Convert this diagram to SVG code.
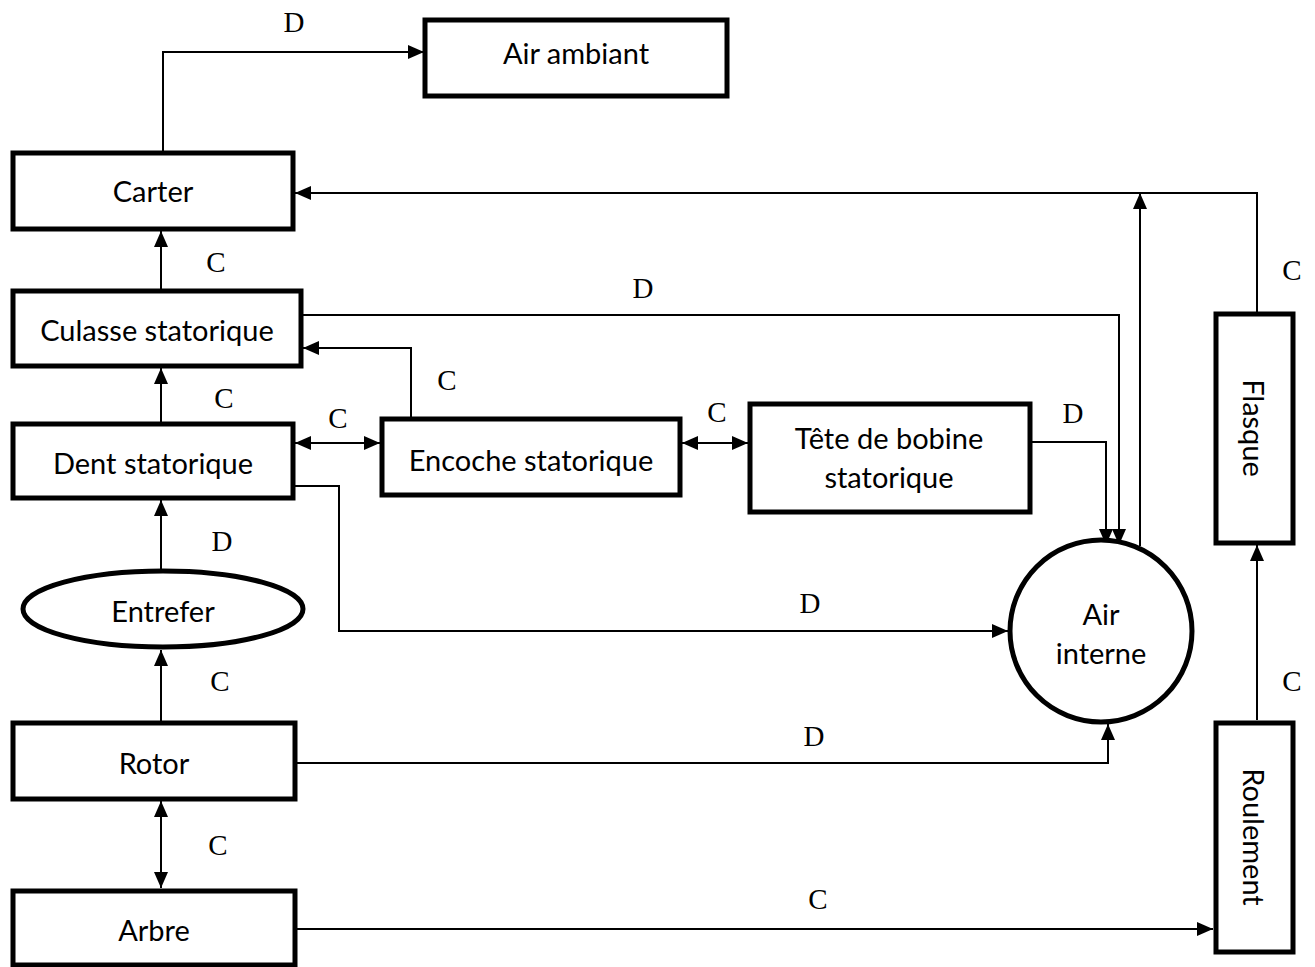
<svg xmlns="http://www.w3.org/2000/svg" width="1315" height="967" viewBox="0 0 1315 967">
<style>
.box{fill:#fff;stroke:#000;stroke-width:5}
.t{font-family:Lato,"Open Sans","Liberation Sans",sans-serif;font-size:29px;fill:#000;text-anchor:middle;dominant-baseline:central}
.l{font-family:"Liberation Serif","Times New Roman",serif;font-size:29px;fill:#000;text-anchor:middle;dominant-baseline:central}
.c{fill:none;stroke:#000;stroke-width:2}
</style>
<defs>
<marker id="ae" markerUnits="userSpaceOnUse" markerWidth="18" markerHeight="16" refX="16" refY="8" orient="auto"><path d="M0,1 L16,8 L0,15 Z" fill="#000"/></marker>
<marker id="as" markerUnits="userSpaceOnUse" markerWidth="18" markerHeight="16" refX="0" refY="8" orient="auto"><path d="M16,1 L0,8 L16,15 Z" fill="#000"/></marker>
</defs>
<rect width="1315" height="967" fill="#fff"/>
<g id="connectors">
<path class="c" d="M163,153 V52 H424" marker-end="url(#ae)"/>
<path class="c" d="M1257,313 V193 H295" marker-end="url(#ae)"/>
<path class="c" d="M1140,546 V193" marker-end="url(#ae)"/>
<path class="c" d="M303,315 H1119 V545" marker-end="url(#ae)"/>
<path class="c" d="M1032,442 H1106 V545" marker-end="url(#ae)"/>
<path class="c" d="M411,417 V348 H303" marker-end="url(#ae)"/>
<path class="c" d="M161,289 V231" marker-end="url(#ae)"/>
<path class="c" d="M161,422 V368" marker-end="url(#ae)"/>
<path class="c" d="M295,443 H380" marker-start="url(#as)" marker-end="url(#ae)"/>
<path class="c" d="M682,443 H748" marker-start="url(#as)" marker-end="url(#ae)"/>
<path class="c" d="M295,486 H339 V631 H1008" marker-end="url(#ae)"/>
<path class="c" d="M161,571 V500" marker-end="url(#ae)"/>
<path class="c" d="M161,721 V650" marker-end="url(#ae)"/>
<path class="c" d="M161,801 V888" marker-start="url(#as)" marker-end="url(#ae)"/>
<path class="c" d="M297,763 H1108 V724" marker-end="url(#ae)"/>
<path class="c" d="M297,929 H1213" marker-end="url(#ae)"/>
<path class="c" d="M1257,720 V545" marker-end="url(#ae)"/>
<text class="l" x="294" y="22">D</text>
<text class="l" x="1292" y="270">C</text>
<text class="l" x="643" y="288">D</text>
<text class="l" x="1073" y="413">D</text>
<text class="l" x="447" y="380">C</text>
<text class="l" x="216" y="262">C</text>
<text class="l" x="224" y="398">C</text>
<text class="l" x="338" y="418">C</text>
<text class="l" x="717" y="412">C</text>
<text class="l" x="810" y="603">D</text>
<text class="l" x="222" y="541">D</text>
<text class="l" x="220" y="681">C</text>
<text class="l" x="218" y="845">C</text>
<text class="l" x="814" y="736">D</text>
<text class="l" x="818" y="899">C</text>
<text class="l" x="1292" y="681">C</text>
</g>
<g id="air-ambiant"><rect class="box" x="425" y="20" width="302" height="76"/><text class="t" x="576" y="52">Air ambiant</text></g>
<g id="carter"><rect class="box" x="13" y="153" width="280" height="76"/><text class="t" x="153" y="190">Carter</text></g>
<g id="culasse"><rect class="box" x="13" y="291" width="288" height="75"/><text class="t" x="157" y="329">Culasse statorique</text></g>
<g id="dent"><rect class="box" x="13" y="424" width="280" height="74"/><text class="t" x="153" y="462">Dent statorique</text></g>
<g id="encoche"><rect class="box" x="382" y="419" width="298" height="76"/><text class="t" x="531" y="459">Encoche statorique</text></g>
<g id="tete"><rect class="box" x="750" y="404" width="280" height="108"/><text class="t" x="889" y="437">Tête de bobine</text><text class="t" x="889" y="476">statorique</text></g>
<g id="entrefer"><ellipse class="box" cx="163" cy="609" rx="140" ry="38"/><text class="t" x="163" y="610">Entrefer</text></g>
<g id="air-interne"><circle class="box" cx="1101" cy="631" r="91"/><text class="t" x="1101" y="613">Air</text><text class="t" x="1101" y="652">interne</text></g>
<g id="rotor"><rect class="box" x="13" y="723" width="282" height="76"/><text class="t" x="154" y="762">Rotor</text></g>
<g id="arbre"><rect class="box" x="13" y="891" width="282" height="74"/><text class="t" x="154" y="929">Arbre</text></g>
<g id="flasque"><rect class="box" x="1216" y="314" width="77" height="229"/><text class="t" transform="translate(1254,428) rotate(90)">Flasque</text></g>
<g id="roulement"><rect class="box" x="1216" y="723" width="77" height="229"/><text class="t" transform="translate(1254,837) rotate(90)">Roulement</text></g>
</svg>
